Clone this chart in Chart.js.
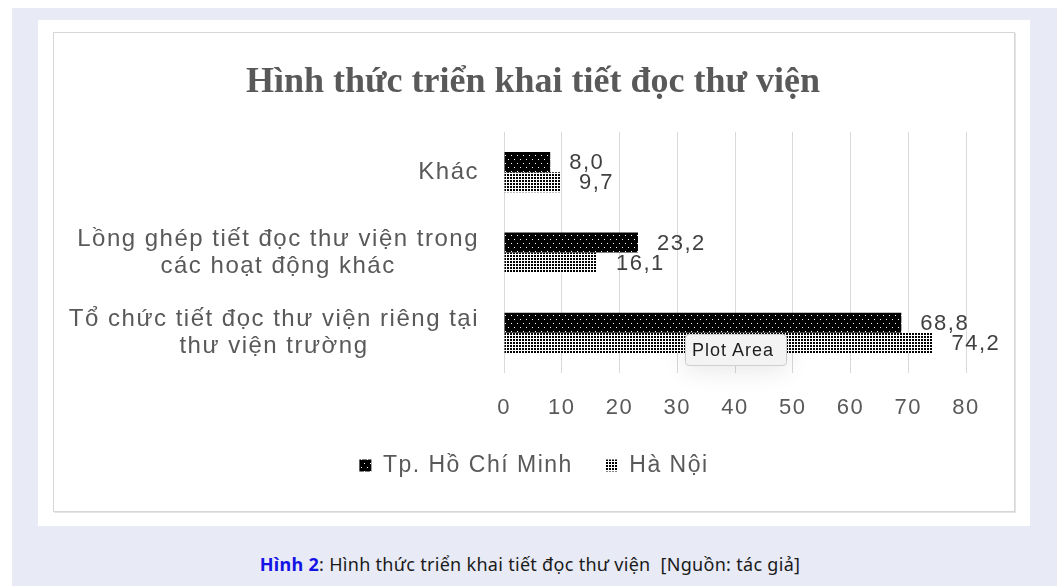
<!DOCTYPE html>
<html>
<head>
<meta charset="utf-8">
<script src="https://cdn.jsdelivr.net/npm/chart.js@4"></script>
<style>
    html, body { margin: 0; padding: 0; background: #fff; }
    #page { position: absolute; left: 12px; top: 8px; width: 1045px; height: 578px; background: #e8ebf5; }
    #panel { position: absolute; left: 38px; top: 20px; width: 992px; height: 506px; background: #fff; }
    #chartBox { position: absolute; left: 53px; top: 32px; width: 960px; height: 478px;
        border: 1px solid #d6d6d6; box-shadow: 1px 1px 0 #e4e4e4; background: #fff; }
    #chartBox canvas { position: absolute; left: 0; top: 0; }
    #hint { position: absolute; left: 685px; top: 334px; width: 100px; height: 30px;
        border: 1px solid #cfcfcf; border-radius: 4px; background: #f3f3f3;
        box-shadow: 0 4px 26px rgba(0,0,0,0.10);
        font: 18px "Liberation Sans", Arial, sans-serif; letter-spacing: 1px; color: #1e1e1e;
        line-height: 31px; text-indent: 6px; white-space: nowrap; }
    #caption { position: absolute; left: 0; top: 553px; width: 1060px; text-align: center;
        font: 18px "Noto Sans", sans-serif; letter-spacing: 0.3px; line-height: 22px; color: #1a1a1a; }
    #caption b { color: #1414e6; }
</style>
</head>
<body>
<div id="page"></div>
<div id="panel"></div>
<div id="chartBox"><canvas id="chart" width="960" height="478"></canvas></div>
<div id="hint">Plot Area</div>
<div id="caption"><b>Hình 2</b>: Hình thức triển khai tiết đọc thư viện&nbsp; [Nguồn: tác giả]</div>

<script>
// Chart data
const categories = [
    ['Khác'],
    ['Lồng ghép tiết đọc thư viện trong', 'các hoạt động khác'],
    ['Tổ chức tiết đọc thư viện riêng tại', 'thư viện trường']
];
const hcmValues = [8.0, 23.2, 68.8];
const hnValues = [9.7, 16.1, 74.2];
const xTicks = [0, 10, 20, 30, 40, 50, 60, 70, 80];

const chartTitle = 'Hình thức triển khai tiết đọc thư viện';
const seriesNames = ['Tp. Hồ Chí Minh', 'Hà Nội'];

const labelFont = '"Liberation Sans", Arial, sans-serif';

// Excel-like dotted fills
function makePattern(bg, fg, w, h, dots) {
    const c = document.createElement('canvas');
    c.width = w;
    c.height = h;
    const g = c.getContext('2d');
    g.fillStyle = bg;
    g.fillRect(0, 0, w, h);
    g.fillStyle = fg;
    dots.forEach(d => g.fillRect(d[0], d[1], d[2] || 1, d[3] || 1));
    return g.createPattern(c, 'repeat');
}
const hcmFill = makePattern('#000', '#fff', 6, 8, [[1, 2], [4, 6]]);
const hnFill = makePattern('#fff', '#000', 3, 3, [[0, 0, 2, 2]]);

// spaced text like the Excel rendering
const letterSpacing = {
    id: 'letterSpacing',
    beforeLayout(chart) { chart.ctx.letterSpacing = '1.5px'; },
    beforeDraw(chart) { chart.ctx.letterSpacing = '1.5px'; }
};

// chart title (drawn without the extra spacing)
const titleText = {
    id: 'titleText',
    afterDraw(chart) {
        const ctx = chart.ctx;
        ctx.save();
        ctx.letterSpacing = '0px';
        ctx.font = 'bold 36px "Liberation Serif", "Times New Roman", serif';
        ctx.fillStyle = '#595959';
        ctx.textAlign = 'center';
        ctx.textBaseline = 'alphabetic';
        ctx.fillText(chartTitle, chart.width / 2 - 1, 59);
        ctx.restore();
    }
};

// value labels at the end of each bar
const valueLabels = {
    id: 'valueLabels',
    afterDatasetsDraw(chart) {
        const ctx = chart.ctx;
        ctx.save();
        ctx.font = '22px ' + labelFont;
        ctx.fillStyle = '#404040';
        ctx.textAlign = 'left';
        ctx.textBaseline = 'middle';
        chart.data.datasets.forEach((ds, i) => {
            chart.getDatasetMeta(i).data.forEach((bar, j) => {
                const txt = ds.data[j].toFixed(1).replace('.', ',');
                ctx.fillText(txt, bar.x + 19, bar.y + 1);
            });
        });
        ctx.restore();
    }
};

// category labels: each block right aligned, its lines centred
const categoryLabels = {
    id: 'categoryLabels',
    afterDraw(chart) {
        const ctx = chart.ctx;
        const scale = chart.scales.y;
        ctx.save();
        ctx.font = '24px ' + labelFont;
        ctx.fillStyle = '#595959';
        ctx.textAlign = 'center';
        ctx.textBaseline = 'middle';
        categories.forEach((lines, i) => {
            const y = scale.getPixelForTick(i);
            const w = Math.max(...lines.map(l => ctx.measureText(l).width));
            const cx = scale.right - 25 - w / 2;
            lines.forEach((line, k) => {
                ctx.fillText(line, cx, y + (k - (lines.length - 1) / 2) * 27);
            });
        });
        ctx.restore();
    }
};

function createChart() {
    const ctx = document.getElementById('chart').getContext('2d');
    new Chart(ctx, {
        type: 'bar',
        data: {
            labels: categories,
            datasets: [{
                label: seriesNames[0],
                data: hcmValues,
                backgroundColor: hcmFill,
                borderWidth: 0,
                categoryPercentage: 0.5,
                barPercentage: 1.0
            }, {
                label: seriesNames[1],
                data: hnValues,
                backgroundColor: hnFill,
                borderWidth: 0,
                categoryPercentage: 0.5,
                barPercentage: 1.0
            }]
        },
        options: {
            indexAxis: 'y',
            responsive: false,
            animation: false,
            events: [],
            layout: { padding: { left: 48, right: 48, top: 99, bottom: 24 } },
            scales: {
                x: {
                    min: 0,
                    max: 80,
                    afterBuildTicks: scale => { scale.ticks = xTicks.map(v => ({ value: v })); },
                    afterFit: scale => { scale.height = 48; },
                    grid: { color: '#d9d9d9', lineWidth: 1, drawTicks: false },
                    border: { display: false },
                    ticks: {
                        padding: 22,
                        color: '#595959',
                        font: { family: labelFont, size: 22 }
                    }
                },
                y: {
                    grid: { display: false },
                    border: { display: false },
                    ticks: { display: false },
                    afterFit: scale => { scale.width = 402; }
                }
            },
            plugins: {
                legend: {
                    position: 'bottom',
                    labels: {
                        color: '#595959',
                        font: { family: labelFont, size: 23 },
                        boxWidth: 12,
                        boxHeight: 12,
                        padding: 33
                    }
                },
                tooltip: { enabled: false }
            }
        },
        plugins: [letterSpacing, titleText, valueLabels, categoryLabels]
    });
}

createChart();
</script>
</body>
</html>
